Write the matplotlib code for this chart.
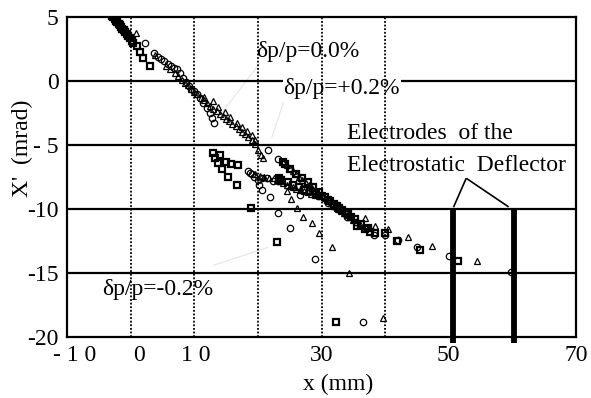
import matplotlib
matplotlib.use("Agg")
from matplotlib import pyplot as plt

# squares (dp/p = -0.2%)
sq_x = [-2.9, -2.7, -2.5, -2.3, -2.1, -1.9, -1.7, -1.5, -1.3, -1.1, -0.9, -0.6, -0.4, -0.1, 0.2, 0.4,
        1.0, 1.5, 2.0, 3.0,
        13.0, 13.3, 14.0, 13.7, 14.3, 15.0, 15.8, 16.8, 15.3, 16.7, 18.9, 23.0,
        23.3, 23.6, 24.0, 24.3, 24.7, 25.1, 25.5, 26.0, 26.4, 26.9, 27.3, 27.8, 28.2, 28.7, 29.1, 29.6,
        30.0, 30.5, 31.0, 31.4, 31.9, 32.4, 32.8, 33.3, 33.8, 34.2, 34.7, 35.2, 35.6, 36.2, 36.8, 37.3,
        37.7, 38.4,
        40.0, 41.8, 45.5, 51.4, 32.3]
sq_y = [5.1, 5.0, 4.85, 4.7, 4.6, 4.45, 4.35, 4.2, 4.1, 3.95, 3.8, 3.65, 3.5, 3.35, 3.15, 3.0,
        2.75, 2.25, 1.8, 1.2,
        -5.6, -6.0, -5.8, -6.4, -6.9, -6.3, -6.5, -6.6, -7.5, -8.1, -9.9, -12.6,
        -7.6, -7.7, -6.3, -6.5, -7.9, -6.9, -8.1, -7.3, -8.3, -7.6, -8.5, -7.9, -8.6, -8.3, -8.8, -8.7,
        -9.0, -9.1, -9.3, -9.4, -9.6, -9.8, -9.9, -10.1, -10.3, -10.4, -10.6, -10.8, -11.3, -11.2, -11.6, -11.5,
        -11.8, -11.9,
        -11.9, -12.5, -13.2, -14.1, -18.8]

# circles (dp/p = 0.0%)
ci_x = [2.3, 3.6, 4.3, 4.8, 5.3, 5.8, 6.3, 6.8, 7.3, 7.8, 8.3, 8.7, 9.1, 9.5, 9.9, 10.4, 10.9, 11.4,
        12.0, 12.4, 12.8, 13.1,
        21.6, 23.2,
        18.5, 18.7, 19.0, 19.4, 20.0, 20.7, 21.5, 22.4, 23.2, 20.2, 20.7, 21.9, 23.2, 25.1, 29.0, 26.6,
        28.0, 29.5, 31.0, 32.5, 34.0, 35.5, 37.0, 38.2,
        40.0, 42.0, 45.0, 50.0, 59.8, 36.5]
ci_y = [3.0, 2.2, 1.85, 1.7, 1.55, 1.35, 1.2, 1.05, 0.9, 0.6, 0.2, -0.1, -0.4, -0.6, -0.8, -1.0, -1.3, -1.7,
        -2.1, -2.5, -2.9, -3.3,
        -5.4, -6.1,
        -7.0, -7.15, -7.3, -7.5, -7.7, -7.6, -7.6, -7.8, -7.85, -8.1, -8.5, -9.1, -10.3, -11.5, -13.9, -8.9,
        -8.5, -9.0, -9.5, -10.0, -10.6, -11.0, -11.5, -12.0,
        -12.0, -12.4, -13.0, -13.7, -14.9, -18.8]

# triangles (dp/p = +0.2%)
tr_x = [0.85, 3.9,
        5.5, 6.2, 6.9, 7.5, 8.1, 8.6, 9.0, 9.5, 10.0, 10.5, 11.0, 11.5, 12.0, 12.5, 13.0, 13.5, 14.0, 14.5,
        15.0, 15.5, 16.0, 16.5, 17.0, 17.5, 18.0, 18.5, 19.0, 19.5, 20.0, 20.5,
        11.5, 12.95, 13.7, 14.8, 15.6, 16.7, 17.5, 18.3, 19.1, 19.6,
        20.8,
        24.0, 24.5, 25.0, 25.5, 26.0, 26.5, 27.0, 27.5, 28.0, 28.5, 29.0, 29.5, 30.0, 30.5, 31.0, 31.5,
        32.0, 32.5, 33.0, 33.5, 34.0, 34.5, 35.0, 35.5, 36.0, 36.9, 38.4,
        19.5, 20.3, 21.0, 21.8, 22.5, 23.0, 23.5, 24.0, 24.5, 25.0, 25.5, 26.0, 26.6, 27.2, 27.8, 28.4, 29.0,
        24.5, 25.2,
        26.2, 27.1, 28.5, 29.6, 31.7, 34.3,
        40.5, 43.6, 47.4, 54.5, 39.7]
tr_y = [3.75, 2.0,
        1.2, 0.95, 0.65, 0.4, 0.1, -0.15, -0.35, -0.6, -0.85, -1.05, -1.3, -1.5, -1.75, -1.95, -2.15, -2.35, -2.55, -2.75,
        -2.95, -3.15, -3.35, -3.55, -3.75, -3.95, -4.15, -4.35, -4.6, -4.95, -5.4, -5.8,
        -1.25, -1.55, -2.0, -2.4, -2.8, -3.3, -3.6, -3.9, -4.2, -4.6,
        -6.0,
        -6.3, -6.55, -6.8, -7.05, -7.3, -7.5, -7.7, -7.95, -8.15, -8.35, -8.55, -8.75, -8.95, -9.15, -9.35, -9.55,
        -9.75, -9.95, -10.15, -10.3, -10.5, -10.65, -10.85, -11.0, -11.2, -10.7, -11.3,
        -7.3, -7.45, -7.5, -7.6, -7.6, -7.7, -7.8, -7.95, -8.1, -8.2, -8.3, -8.4, -8.5, -8.6, -8.7, -8.8, -8.9,
        -8.6, -9.2,
        -9.9, -10.6, -11.1, -11.9, -13.0, -15.0,
        -11.6, -12.2, -12.9, -14.1, -18.5]

x_tick_pos = [-8.8, 1.3, 10.2, 30, 50, 70]
x_tick_lab = ['- 1 0', '0', '1 0', '30', '50', '70']
y_tick_pos = [5, 0, -5, -10, -15, -20]
y_tick_lab = ['5', '0', '- 5', '-10', '-15', '-20']
h_lines = [0, -5, -10, -15]
v_lines = [0, 10, 20, 30, 40]
electrodes = [50.6, 60.2]

plt.rcParams['font.family'] = ['Liberation Serif', 'DejaVu Serif']
fs = 17

fig = plt.figure(figsize=(5.91, 3.98), dpi=100)
ax = fig.add_axes([0.1134, 0.1533, 0.8612, 0.804])
ax.set_xlim(-10, 70)
ax.set_ylim(-20, 5)

for y in h_lines:
    ax.axhline(y, color='black', lw=1.6, zorder=1)
for x in v_lines:
    ax.axvline(x, color='black', lw=1.3, ls=(0, (1, 1)), zorder=3)
for x in electrodes:
    ax.plot([x, x], [-10, -20.45], color='black', lw=4.2, solid_capstyle='butt',
            clip_on=False, zorder=5)

# faint leader lines
ax.plot([20.7, 13.7], [1.65, -2.9], color='#e6e6e6', lw=0.8, zorder=0.5)
ax.plot([24.0, 22.2], [-1.7, -4.4], color='#e6e6e6', lw=0.8, zorder=0.5)
ax.plot([13.0, 21.6], [-14.4, -13.0], color='#e6e6e6', lw=0.8, zorder=0.5)

# leaders to the electrodes
ax.plot([52.7, 50.8], [-7.65, -9.8], color='black', lw=1.2, zorder=4)
ax.plot([52.9, 59.3], [-7.65, -9.8], color='black', lw=1.2, zorder=4)

ax.plot(sq_x, sq_y, ls='none', marker='s', ms=4.5, mfc='none', mec='black', mew=1.6, zorder=4)
ax.plot(ci_x, ci_y, ls='none', marker='o', ms=4.6, mfc='none', mec='black', mew=0.9, zorder=4)
ax.plot(tr_x, tr_y, ls='none', marker='^', ms=4.6, mfc='none', mec='black', mew=0.9, zorder=4)

box = dict(facecolor='white', edgecolor='none', pad=0.5)
ax.text(27.9, 2.3, 'δp/p=0.0%', fontsize=fs, ha='center', va='center', zorder=2, bbox=box)
ax.text(33.2, -0.6, 'δp/p=+0.2%', fontsize=fs, ha='center', va='center', zorder=2, bbox=box)
ax.text(34.0, -4.1, 'Electrodes  of the', fontsize=fs, ha='left', va='center', zorder=2)
ax.text(34.0, -6.6, 'Electrostatic  Deflector', fontsize=fs, ha='left', va='center', zorder=2)
ax.text(4.2, -16.3, 'δp/p=-0.2%', fontsize=fs, ha='center', va='center', zorder=2)

ax.set_xticks(x_tick_pos)
ax.set_xticklabels(x_tick_lab, fontsize=fs)
ax.set_yticks(y_tick_pos)
ax.set_yticklabels(y_tick_lab, fontsize=fs)
ax.tick_params(length=0, pad=6)
ax.set_xlabel('x (mm)', fontsize=fs)
ax.set_ylabel("X'  (mrad)", fontsize=fs)
ax.xaxis.set_label_coords(0.532, -0.115)
ax.yaxis.set_label_coords(-0.067, 0.59)
for s in ax.spines.values():
    s.set_linewidth(1.6)
    s.set_zorder(6)

fig.savefig('out.png', dpi=100)
